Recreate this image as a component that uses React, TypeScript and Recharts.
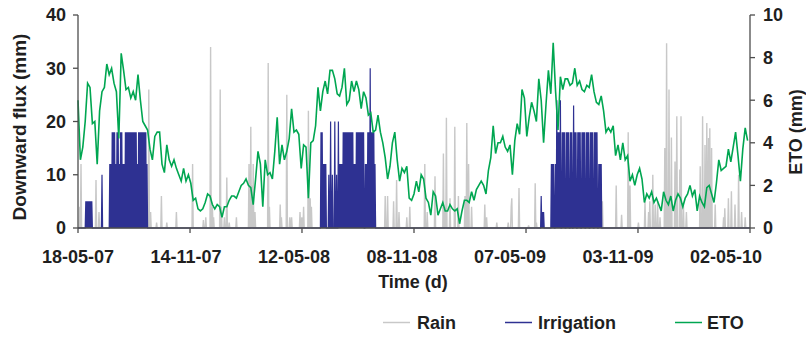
import { ComposedChart, Line, XAxis, YAxis } from 'recharts'

// x axis is days since 18-05-2007
const lastDay = 1120
const dateLabels = ['18-05-07', '14-11-07', '12-05-08', '08-11-08', '07-05-09', '03-11-09', '02-05-10']
const labelDays = [0, 180, 360, 540, 720, 900, 1080]
const markDays = [0, 186.7, 373.3, 560, 746.7, 933.3, 1120]
const fluxTicks = [0, 10, 20, 30, 40]
const etoTicks = [0, 2, 4, 6, 8, 10]

// rain events (day, mm)
const rainDays = [
  3, 5, 30, 35, 118, 121, 131, 139, 148, 164,
  191, 209, 213, 221, 224, 226, 237, 239, 244, 248,
  252, 264, 285, 288, 290, 292, 295, 317, 319, 337,
  339, 348, 353, 356, 370, 373, 376, 384, 387, 389,
  495, 512, 516, 526, 531, 535, 548, 553, 578, 582,
  595, 609, 612, 614, 620, 628, 634, 645, 648, 651,
  656, 678, 681, 698, 717, 722, 723, 735, 751, 762,
  764, 874, 897, 906, 917, 920, 934, 945, 951, 953,
  958, 962, 966, 970, 978, 981, 985, 989, 995, 998,
  1003, 1005, 1009, 1014, 1037, 1041, 1045, 1048, 1051, 1053,
  1056, 1062, 1076, 1078, 1084, 1089, 1095, 1101, 1106, 1112,
]
const rainMm = [
  4, 12, 9, 3, 26, 3, 1, 6, 1, 3,
  12, 1.5, 2, 34, 4, 2, 26, 4, 2, 9.5,
  1, 2, 12, 19, 8, 12, 3, 31, 4, 4.4,
  2, 25, 2, 2, 3, 2, 4, 22, 5.6, 4,
  5, 6, 6, 5, 9, 3, 2, 4, 12, 3,
  9.7, 14, 4, 20.7, 5.6, 19, 6, 6, 19.7, 12,
  4, 4.4, 2, 1, 1, 4, 5.6, 7.5, 0.5, 8.4,
  1, 5, 8, 2.5, 18, 8, 1, 5, 3, 5,
  10, 4.4, 5, 2, 15, 34.7, 26, 17, 12.5, 21,
  11, 21, 4.4, 3, 11.6, 21, 15.6, 19.7, 16.9, 18.75,
  15, 4.4, 2, 3.7, 5.6, 6.9, 4.4, 10, 3, 2,
]

// irrigation events (day, mm)
const irrDays = [
  // 2007
  13, 15, 17, 19, 21, 23, 40,
  53, 55, 57, 59, 61, 63, 65, 67, 69, 71, 73, 75, 77, 79, 81, 83, 85, 87, 89, 91, 93, 95, 97, 99,
  101, 103, 105, 107, 109, 111, 113, 115,
  // 2008
  405, 407, 409, 411, 413, 418, 421, 424, 428, 431, 434, 436, 438, 440,
  442, 444, 446, 448, 450, 452, 454, 456, 458, 460, 462, 464, 466, 468, 470, 472, 474, 476,
  479, 481, 483, 485, 487, 489, 491, 493, 495,
  // 2009
  772, 774, 776, 789, 791, 793, 796, 798, 800, 802, 804, 807, 809, 811, 814, 816, 818, 821, 823,
  826, 828, 830, 833, 835, 837, 840, 842, 844, 847, 849, 851, 854, 856, 858, 861, 863, 865, 868, 870, 872,
]
const irrMm = [
  5, 5, 5, 5, 5, 5, 10,
  12, 12, 18, 18, 18, 12, 18, 18, 12, 18, 18, 12, 12, 18, 18, 18, 18, 18, 18, 18, 18, 18, 18, 12,
  18, 18, 18, 18, 18, 18, 18, 12,
  18, 18, 12, 12, 12, 10, 20, 10, 20, 10, 20, 12, 12, 12,
  18, 18, 18, 18, 18, 18, 18, 18, 18, 12, 12, 18, 18, 18, 18, 18, 18, 18,
  12, 12, 18, 18, 30, 18, 18, 18, 12,
  6, 3, 3, 12, 12, 12, 12, 24, 18, 18, 24, 18, 18, 18, 18, 18, 18, 18, 18,
  23, 18, 18, 18, 18, 18, 18, 18, 18, 18, 18, 18, 18, 18, 18, 18, 18, 18, 12, 12, 12,
]

// reference evapotranspiration, one reading every 4 days from day 0
const etoStep = 4
const etoMm = [
  6.0, 3.2, 3.8, 5.0, 6.8, 6.6, 4.9, 5.0, 3.0, 5.5,
  6.4, 6.6, 7.7, 7.2, 7.5, 6.8, 6.4, 4.2, 8.2, 7.4,
  6.5, 6.6, 6.1, 6.4, 6.0, 7.2, 6.0, 5.0, 4.8, 4.6,
  3.7, 3.2, 4.3, 4.5, 4.5, 3.0, 2.6, 3.9, 3.2, 2.9,
  3.2, 2.8, 2.5, 2.2, 2.8, 2.2, 2.5, 2.1, 1.3, 1.4,
  0.9, 0.8, 0.9, 1.2, 1.6, 1.5, 1.1, 0.9, 1.1, 1.0,
  0.5, 1.0, 1.0, 1.3, 1.5, 1.5, 1.4, 1.7, 2.0, 2.1,
  2.3, 2.0, 1.9, 1.1, 2.3, 3.6, 3.0, 1.0, 3.2, 2.5,
  2.6, 2.3, 3.6, 5.2, 3.0, 3.9, 3.2, 3.6, 4.2, 5.6,
  4.5, 4.6, 4.4, 2.8, 3.9, 3.8, 1.4, 4.0, 4.1, 4.8,
  6.6, 5.5, 6.4, 6.9, 6.3, 7.4, 7.4, 7.0, 6.3, 6.2,
  6.6, 7.5, 5.8, 6.0, 6.9, 6.4, 6.9, 6.5, 5.6, 6.4,
  6.1, 5.3, 5.4, 4.5, 4.6, 5.3, 4.5, 4.0, 3.3, 2.3,
  2.9, 4.0, 4.5, 3.2, 2.2, 2.8, 2.6, 2.9, 1.4, 1.3,
  1.6, 2.2, 1.7, 2.5, 2.3, 1.4, 1.2, 0.6, 1.7, 1.5,
  0.6, 0.9, 1.2, 0.8, 0.8, 1.1, 0.9, 0.8, 0.9, 0.2,
  0.8, 1.3, 1.3, 1.2, 1.7, 1.3, 1.8, 2.0, 2.2, 2.0,
  1.6, 2.7, 3.3, 4.8, 3.5, 4.0, 4.0, 4.3, 3.8, 3.6,
  3.9, 2.5, 4.1, 4.9, 4.4, 6.5, 6.1, 4.3, 5.2, 5.9,
  5.5, 5.0, 7.0, 6.0, 4.0, 5.8, 7.4, 6.3, 8.7, 6.4,
  4.6, 7.1, 6.5, 7.0, 7.0, 6.7, 6.8, 7.5, 6.7, 6.9,
  6.5, 6.4, 6.7, 6.6, 7.2, 6.4, 5.9, 5.8, 6.2, 5.5,
  4.5, 4.7, 4.5, 4.8, 3.4, 3.9, 3.2, 4.0, 3.2, 3.4,
  2.2, 2.5, 2.0, 2.5, 2.8, 2.3, 1.2, 1.6, 1.4, 1.7,
  1.2, 1.4, 1.1, 0.8, 1.7, 1.3, 1.1, 1.5, 0.8, 1.3,
  1.6, 1.4, 1.0, 1.4, 1.6, 2.0, 1.5, 1.8, 0.8, 1.5,
  1.2, 1.0, 1.9, 2.0, 1.6, 1.2, 2.1, 3.2, 2.7, 2.8,
  2.9, 3.7, 3.1, 3.8, 4.5, 3.4, 2.2, 3.7, 4.7, 4.1,
]

const RAIN = '#c8c8c8'
const IRR = '#2e3192'
const ETO = '#00a651'
const AXIS = '#4d4d4d'
const INK = '#1f1f1f'
const FONT = "'Liberation Sans', Arial, sans-serif"

interface Row { day: number; rain: number; irr: number; eto: number | null }

const rows: Row[] = []
for (let d = 0; d <= lastDay; d++) rows.push({ day: d, rain: 0, irr: 0, eto: null })
rainDays.forEach((d, i) => { rows[d].rain = rainMm[i] })
irrDays.forEach((d, i) => { rows[d].irr = irrMm[i] })
etoMm.forEach((v, i) => { rows[i * etoStep].eto = v })

const xTicks = Array.from(new Set([...labelDays, ...markDays])).sort((a, b) => a - b)

// labels and tick marks sit at different places on this axis (as in the original)
function DateTick(props: any) {
  const { x, y, payload } = props
  const i = labelDays.indexOf(payload.value)
  const isMark = markDays.includes(payload.value)
  return (
    <g>
      {isMark && <line x1={x} x2={x} y1={y} y2={y + 5} stroke={AXIS} strokeWidth={1.3} />}
      {i >= 0 && (
        <text x={x} y={y + 35} textAnchor="middle" fill={INK} fontSize={18} fontWeight="bold" fontFamily={FONT}>
          {dateLabels[i]}
        </text>
      )}
    </g>
  )
}

const tickStyle = { fill: INK, fontSize: 18, fontWeight: 'bold' as const, fontFamily: FONT }

const legendItems = [
  { name: 'Rain', color: RAIN, x1: 383, tx: 417 },
  { name: 'Irrigation', color: IRR, x1: 505, tx: 538 },
  { name: 'ETO', color: ETO, x1: 675, tx: 707 },
]

export default function App() {
  return (
    <div style={{ position: 'absolute', left: 0, top: 0, width: 806, height: 338, background: '#fff' }}>
      <ComposedChart
        width={806}
        height={338}
        data={rows}
        margin={{ top: 15, right: 0, bottom: 70, left: 0 }}
      >
        <XAxis
          dataKey="day"
          type="number"
          domain={[0, lastDay]}
          ticks={xTicks}
          interval={0}
          tick={<DateTick />}
          tickLine={false}
          tickSize={0}
          tickMargin={0}
          height={40}
          axisLine={{ stroke: AXIS, strokeWidth: 1.3 }}
        />
        <YAxis
          yAxisId="flux"
          domain={[0, 40]}
          ticks={fluxTicks}
          width={78}
          tick={tickStyle}
          tickSize={5}
          tickMargin={7}
          axisLine={{ stroke: AXIS, strokeWidth: 1.3 }}
          tickLine={{ stroke: AXIS, strokeWidth: 1.3 }}
        />
        <YAxis
          yAxisId="eto"
          orientation="right"
          domain={[0, 10]}
          ticks={etoTicks}
          width={56}
          tick={tickStyle}
          tickSize={5}
          tickMargin={8}
          axisLine={{ stroke: AXIS, strokeWidth: 1.3 }}
          tickLine={{ stroke: AXIS, strokeWidth: 1.3 }}
        />
        <Line
          yAxisId="flux"
          dataKey="rain"
          stroke={RAIN}
          strokeWidth={1.4}
          dot={false}
          activeDot={false}
          isAnimationActive={false}
        />
        <Line
          yAxisId="flux"
          dataKey="irr"
          stroke={IRR}
          strokeWidth={1.2}
          dot={false}
          activeDot={false}
          isAnimationActive={false}
        />
        <Line
          yAxisId="eto"
          dataKey="eto"
          stroke={ETO}
          strokeWidth={1.6}
          connectNulls
          dot={false}
          activeDot={false}
          isAnimationActive={false}
        />
      </ComposedChart>

      {/* axis titles and legend */}
      <svg width={806} height={338} style={{ position: 'absolute', left: 0, top: 0, pointerEvents: 'none' }}>
        <g fontFamily={FONT} fontWeight="bold" fill={INK}>
          <text x={26} y={127} fontSize={19} textAnchor="middle" transform="rotate(-90, 26, 127)">
            Downward flux (mm)
          </text>
          <text x={802} y={132} fontSize={18} textAnchor="middle" transform="rotate(-90, 802, 132)">
            ETO (mm)
          </text>
          <text x={413} y={288} fontSize={18} textAnchor="middle">Time (d)</text>
          {legendItems.map(it => (
            <g key={it.name}>
              <line x1={it.x1} x2={it.x1 + 27} y1={322.5} y2={322.5} stroke={it.color} strokeWidth={1.5} />
              <text x={it.tx} y={329} fontSize={18}>{it.name}</text>
            </g>
          ))}
        </g>
      </svg>
    </div>
  )
}
